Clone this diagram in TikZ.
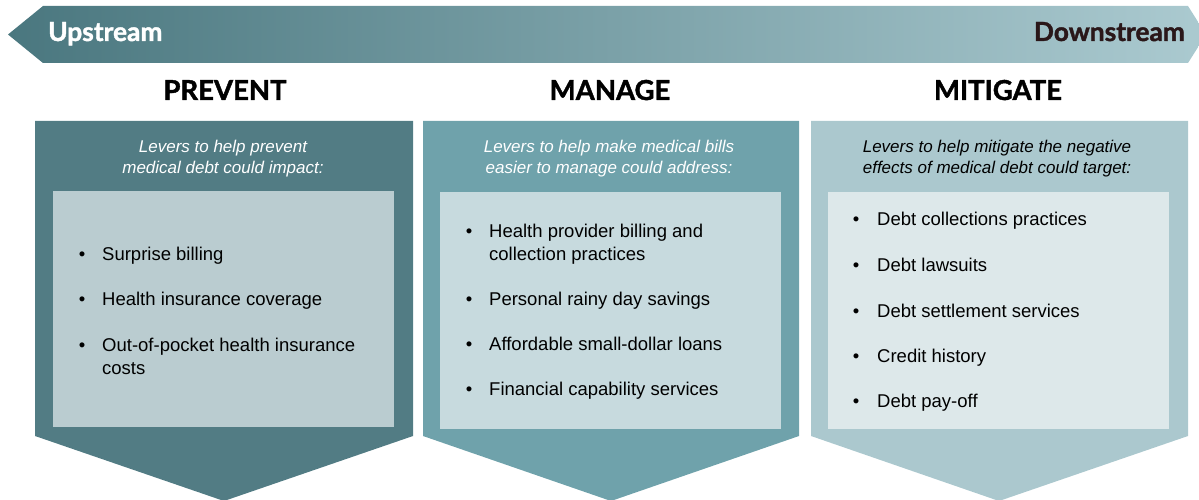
\documentclass[tikz,border=0pt]{standalone}
\usepackage{fontspec}
\setmainfont{Liberation Sans}
\newfontfamily\headfont{Lato}[BoldFeatures={FakeBold=1.5}]
\definecolor{bandL}{HTML}{4A777F}
\definecolor{bandR}{HTML}{ABCAD0}
\definecolor{outA}{HTML}{527C84}
\definecolor{inA}{HTML}{BACCD0}
\definecolor{outB}{HTML}{6FA2AB}
\definecolor{inB}{HTML}{C7DADE}
\definecolor{outC}{HTML}{ABC8CE}
\definecolor{inC}{HTML}{DDE8EA}
\definecolor{darktxt}{HTML}{2A1719}
\tikzset{
  head/.style={font=\headfont\bfseries\fontsize{27.5}{30}\selectfont, text=black, inner sep=0pt, anchor=base},
  band/.style={font=\headfont\bfseries\fontsize{26.3}{28}\selectfont, inner sep=0pt, anchor=base west},
  sub/.style={font=\itshape\fontsize{17}{20}\selectfont, inner sep=0pt, anchor=base},
  item/.style={font=\fontsize{18.5}{23}\selectfont, text=black, inner sep=0pt, anchor=base west},
  bul/.style={font=\fontsize{18.5}{23}\selectfont, text=black, inner sep=0pt, anchor=base},
}
\begin{document}
\begin{tikzpicture}[x=1pt,y=-1pt]
\useasboundingbox (0,0) rectangle (1199,500);
\clip (0,0) rectangle (1199,500);
% banner
\shade[left color=bandL, right color=bandR]
  (8,34.5) -- (43,6) -- (1188,6) -- (1206,34.5) -- (1188,63) -- (43,63) -- cycle;
\node[band, text=white] (up) at (48,41) {Upstream};
\node[band, text=darktxt, anchor=base east] (down) at (1185,41) {Downstream};
% headings
\node[head] (hA) at (225,100) {PREVENT};
\node[head] (hB) at (610,100) {MANAGE};
\node[head] (hC) at (998,100) {MITIGATE};
% columns
\fill[outA] (35,121) -- (413,121) -- (413,436) -- (224,501) -- (35,436) -- cycle;
\fill[inA] (53,191) rectangle (394,427);
\fill[outB] (423,121) -- (799,121) -- (799,436) -- (611,501) -- (423,436) -- cycle;
\fill[inB] (440,192) rectangle (781,429);
\fill[outC] (811,121) -- (1188,121) -- (1188,436) -- (999,501) -- (811,436) -- cycle;
\fill[inC] (828,192) rectangle (1169,429);
% subtitles
\node[sub, text=white] (sA1) at (223,153) {Levers to help prevent};
\node[sub, text=white] (sA2) at (223,173) {medical debt could impact:};
\node[sub, text=white] (sB1) at (609,153) {Levers to help make medical bills};
\node[sub, text=white] (sB2) at (609,173) {easier to manage could address:};
\node[sub, text=black] (sC1) at (997,153) {Levers to help mitigate the negative};
\node[sub, text=black] (sC2) at (997,173) {effects of medical debt could target:};
% column A items
\node[bul] (bA1) at (82,260) {•}; \node[item] (iA1) at (102,260) {Surprise billing};
\node[bul] (bA2) at (82,305) {•}; \node[item] (iA2) at (102,305) {Health insurance coverage};
\node[bul] (bA3) at (82,351) {•}; \node[item] (iA3) at (102,351) {Out-of-pocket health insurance};
\node[item] (iA3b) at (102,374) {costs};
% column B items
\node[bul] (bB1) at (469,237) {•}; \node[item] (iB1) at (489,237) {Health provider billing and};
\node[item] (iB1b) at (489,260) {collection practices};
\node[bul] (bB2) at (469,305) {•}; \node[item] (iB2) at (489,305) {Personal rainy day savings};
\node[bul] (bB3) at (469,350) {•}; \node[item] (iB3) at (489,350) {Affordable small-dollar loans};
\node[bul] (bB4) at (469,395) {•}; \node[item] (iB4) at (489,395) {Financial capability services};
% column C items
\node[bul] (bC1) at (856,225) {•}; \node[item] (iC1) at (877,225) {Debt collections practices};
\node[bul] (bC2) at (856,271) {•}; \node[item] (iC2) at (877,271) {Debt lawsuits};
\node[bul] (bC3) at (856,317) {•}; \node[item] (iC3) at (877,317) {Debt settlement services};
\node[bul] (bC4) at (856,362) {•}; \node[item] (iC4) at (877,362) {Credit history};
\node[bul] (bC5) at (856,407) {•}; \node[item] (iC5) at (877,407) {Debt pay-off};
\end{tikzpicture}
\end{document}
